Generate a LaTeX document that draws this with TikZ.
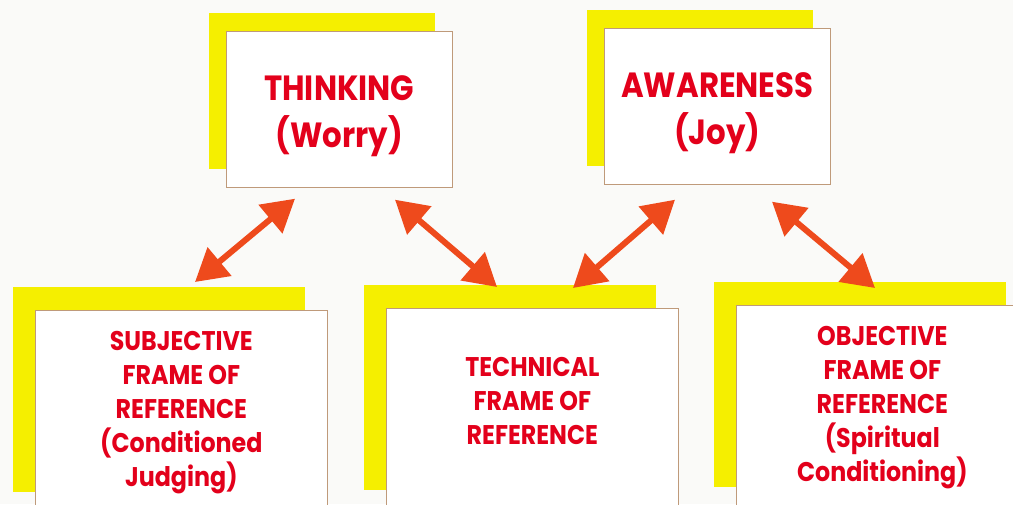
\documentclass[tikz,border=0pt]{standalone}
\usepackage{fontspec}
\usetikzlibrary{arrows.meta, shadows}
\newfontfamily\boxfont[FakeStretch=0.88]{Poppins}
\definecolor{frameRed}{HTML}{E3001B}
\definecolor{frameYellow}{HTML}{F5EF00}
\definecolor{frameOrange}{HTML}{EE4A1C}
\definecolor{frameEdge}{HTML}{BF9A7A}
\definecolor{pageWhite}{HTML}{FAFAF8}

\begin{document}
\begin{tikzpicture}[
    x=1pt, y=-1pt,
    box/.style={draw=frameEdge, line width=0.7pt, fill=white, inner sep=0pt,
        anchor=north west, align=center, text=frameRed},
    topbox/.style={box, minimum width=226pt, minimum height=156pt,
        general shadow={fill=frameYellow, shadow xshift=-17pt, shadow yshift=18pt},
        font=\boxfont\bfseries\fontsize{35}{47}\selectfont},
    lowbox/.style={box, minimum width=292pt, minimum height=205pt,
        general shadow={fill=frameYellow, shadow xshift=-22pt, shadow yshift=23pt},
        font=\boxfont\bfseries\fontsize{27}{34}\selectfont},
    biarrow/.style={{Triangle[length=32pt,width=36pt]}-{Triangle[length=32pt,width=36pt]},
        line width=6pt, draw=frameOrange}
]
    \clip (0,0) rectangle (1013,504);
    \fill[pageWhite] (0,0) rectangle (1013,504);

    % States of mind (top row)
    \node[topbox] (think) at (226,31) {\rule{0pt}{39pt}THINKING\\(Worry)};
    \node[topbox] (aware) at (604,28) {\rule{0pt}{39pt}AWARENESS\\(Joy)};

    % Frames of reference (bottom row)
    \node[lowbox] (subj) at (35,310) {SUBJECTIVE\\FRAME OF\\REFERENCE\\(Conditioned\\Judging)};
    \node[lowbox] (tech) at (386,308) {TECHNICAL\\FRAME OF\\REFERENCE\\[-14pt]};
    \node[lowbox] (obj) at (736,305) {OBJECTIVE\\FRAME OF\\REFERENCE\\(Spiritual\\Conditioning)};

    % Two-way links
    \draw[biarrow] ([shift={(69,11)}]think.south west) -- ([shift={(160,-28)}]subj.north west);
    \draw[biarrow] ([shift={(169,12)}]think.south west) -- ([shift={(111,-21)}]tech.north west);
    \draw[biarrow] ([shift={(71,15)}]aware.south west) -- ([shift={(187,-20)}]tech.north west);
    \draw[biarrow] ([shift={(168,17)}]aware.south west) -- ([shift={(139,-17)}]obj.north west);
\end{tikzpicture}
\end{document}
